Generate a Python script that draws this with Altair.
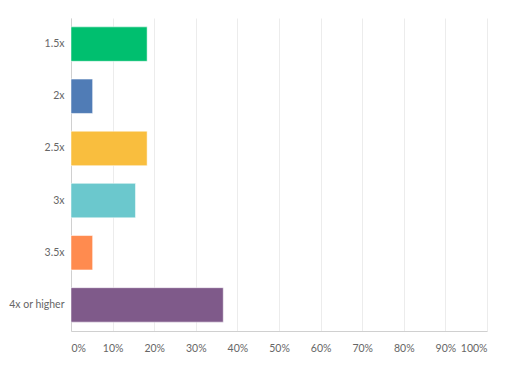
import altair as alt
import pandas as pd

categories = ["1.5x", "2x", "2.5x", "3x", "3.5x", "4x or higher"]
shares = [0.183, 0.052, 0.183, 0.155, 0.052, 0.366]
colors = ["#00BF6F", "#507CB6", "#F9BE3E", "#6BC8CD", "#FF8B4F", "#7F5A8A"]
tick_values = [0, 0.1, 0.2, 0.3, 0.4, 0.5, 0.6, 0.7, 0.8, 0.9, 1.0]

df = pd.DataFrame({"category": categories, "share": shares})

chart = alt.Chart(df).mark_bar(
    stroke="white", strokeWidth=1, strokeOpacity=0.5
).encode(
    y=alt.Y("category:N", sort=categories, title=None,
            scale=alt.Scale(paddingInner=0.34, paddingOuter=0.17),
            axis=alt.Axis(ticks=False, labelPadding=7, labelColor="#666666",
                          labelFontSize=10.5, labelFont="Lato",
                          domainColor="#d0d0d0", grid=False)),
    x=alt.X("share:Q", title=None,
            scale=alt.Scale(domain=[0, 1], nice=False),
            axis=alt.Axis(values=tick_values, format=".0%", ticks=False,
                          labelPadding=12, labelColor="#666666",
                          labelFontSize=10.5, labelFont="Lato",
                          domainColor="#d0d0d0", gridColor="#ececec",
                          labelFlush=True)),
    color=alt.Color("category:N", sort=categories,
                    scale=alt.Scale(domain=categories, range=colors),
                    legend=None),
).properties(
    width=416, height=313,
    autosize=alt.AutoSizeParams(type="none"),
    padding={"left": 63, "top": 10, "right": 10, "bottom": 22},
).configure_view(stroke=None)

chart.save("out.html", embed_options={"renderer": "svg", "actions": False})
